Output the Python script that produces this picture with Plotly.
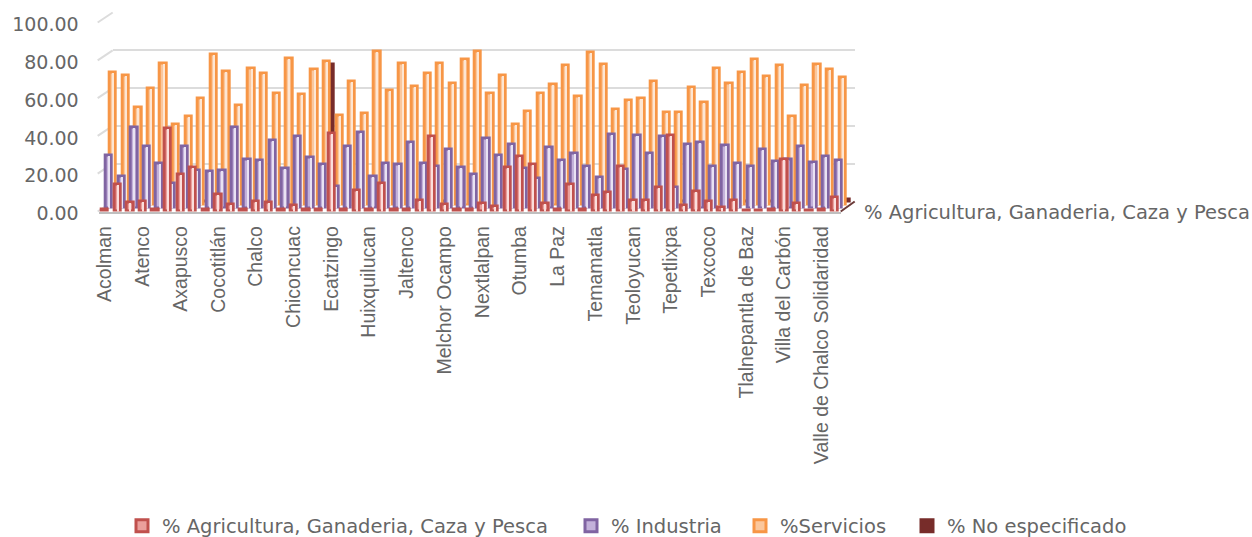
import plotly.graph_objects as go

W, H = 1252, 537

tick_labels = ["Acolman", "Atenco", "Axapusco", "Cocotitlán", "Chalco", "Chiconcuac", "Ecatzingo",
               "Huixquilucan", "Jaltenco", "Melchor Ocampo", "Nextlalpan", "Otumba", "La Paz",
               "Temamatla", "Teoloyucan", "Tepetlixpa", "Texcoco", "Tlalnepantla de Baz",
               "Villa del Carbón", "Valle de Chalco Solidaridad"]
y_ticks = [0, 20, 40, 60, 80, 100]

agricultura = [1, 14.5, 4.5, 5, 1, 43.7, 19.6, 23, 1, 9, 3.7, 1, 5, 4.7, 1, 3, 0.8, 0.8, 41, 1,
               11, 1, 15, 1, 1, 5.6, 39.5, 3.9, 0.8, 0.8, 4, 2.8, 23, 29, 25, 4, 1, 14, 1, 8.6,
               10, 24, 5.6, 5.8, 12.7, 40, 3, 10.6, 5.5, 2.3, 6, 0.7, 0.7, 1, 27.7, 4.4, 0.6, 0.8, 7.2]
industria = [28, 17, 43, 33, 24, 13.4, 33, 20, 19.6, 20, 43, 25.7, 25.6, 36, 21, 38, 27, 23, 11.6, 33,
             40, 17, 24, 23, 35, 24, 22, 31, 21.5, 18, 37, 28, 34, 21, 16, 32, 25.6, 29, 22, 16.4,
             39, 20.5, 38.4, 29, 38, 11.3, 34, 35, 22, 33.5, 23.6, 22.4, 31, 25, 26, 32.6, 24.5, 27.5, 25.4]
servicios = [70.5, 68.8, 52, 62, 75.3, 43, 47, 56.8, 79.7, 71, 53, 72.7, 69.7, 59, 78, 58.7, 72, 76, 47.4, 65.6,
             48.7, 81.5, 60.7, 75, 63, 70, 75, 64.7, 77.4, 81.5, 59, 68.8, 42.7, 49.7, 59.4, 64, 74, 57.7, 81, 74.4,
             50.6, 55.6, 56.4, 65.8, 49, 49.4, 62.6, 54.7, 72.7, 64.7, 70.4, 77, 68, 74, 47, 63.3, 74.8, 71.8, 67.5]
no_especificado = [0.3] * 17 + [73] + [0.3] * 40 + [1.5]

positions = list(range(len(agricultura)))

# series, from the back of the 3D box to the front
series = [
    ("% No especificado", no_especificado, "#772c2a", "#772c2a", "#772c2a", 3),
    ("%Servicios", servicios, "#f79646", "#fbc79c", "#fde6d3", 2),
    ("% Industria", industria, "#8064a2", "#c3b1da", "#e9e2f3", 1),
    ("% Agricultura, Ganaderia, Caza y Pesca", agricultura, "#c0504d", "#eb9f9c", "#fbdedc", 0),
]
legend_x = {"% Agricultura, Ganaderia, Caza y Pesca": 122, "% Industria": 571,
            "%Servicios": 740, "% No especificado": 907}
legend_ids = {"% Agricultura, Ganaderia, Caza y Pesca": "legend", "% Industria": "legend2",
              "%Servicios": "legend3", "% No especificado": "legend4"}

X0, X1 = 98.7, 840.7      # front plot box, px
Y0, Y100 = 211.5, 22.5
TOP = 100.5               # keeps the 100 gridline inside the axis range
DX, DY = 4.0, 3.0         # shift per depth row, px
BACK_DX, BACK_DY = 14.0, 10.0
GRID = "#dcdcdc"
TEXT = "#666666"
YTOP = Y0 + (Y100 - Y0) * TOP / 100


def hdom(shift):
    return [(X0 + shift) / W, (X1 + shift) / W]


def vdom(shift):
    return [1 - (Y0 - shift) / H, 1 - (YTOP - shift) / H]


fig = go.Figure()
layout = {}

# back wall carrying the grid (axes 1)
fig.add_trace(go.Bar(x=[], y=[], xaxis="x", yaxis="y", showlegend=False))
layout["xaxis"] = dict(domain=hdom(BACK_DX), range=[-0.5, 58.5], visible=False, anchor="y", automargin=False)
layout["yaxis"] = dict(domain=vdom(BACK_DY), range=[0, TOP], tickvals=y_ticks, showticklabels=False,
                       showgrid=True, gridcolor=GRID, gridwidth=2, zeroline=False, showline=False,
                       ticks="", anchor="x", automargin=False)

for n, (name, vals, line, fill, shine, depth) in enumerate(series):
    k = n + 2
    xa, ya = f"x{k}", f"y{k}"
    front = depth == 0
    shine_vals = [v if v >= 2 else None for v in vals]
    fig.add_trace(go.Bar(x=positions, y=vals, name=name, xaxis=xa, yaxis=ya, width=0.5,
                         marker=dict(color=fill, line=dict(color=line, width=3)),
                         legend=legend_ids[name]))
    fig.add_trace(go.Bar(x=positions, y=shine_vals, xaxis=xa, yaxis=ya, width=0.16, showlegend=False,
                         marker=dict(color=shine, line=dict(width=0)), hoverinfo="skip"))
    layout[f"xaxis{k}"] = dict(domain=hdom(DX * depth), range=[-0.5, 58.5], anchor=ya, automargin=False,
                               tickmode="array", tickvals=positions[::3], ticktext=tick_labels,
                               tickangle=-90, showticklabels=front, ticks="", showgrid=False,
                               zeroline=False, showline=front, linecolor="#bfbfbf", linewidth=1.5,
                               ticklabelstandoff=5,
                               tickfont=dict(family="Liberation Sans", size=19.5, color=TEXT))
    layout[f"yaxis{k}"] = dict(domain=vdom(DY * depth), range=[0, TOP], anchor=xa, tickvals=y_ticks,
                               showticklabels=False, ticks="", showgrid=False, zeroline=False,
                               showline=False, automargin=False)

# value labels sit on their own axis, a touch lower than the front floor
k = len(series) + 2
fig.add_trace(go.Bar(x=[], y=[], xaxis=f"x{k}", yaxis=f"y{k}", showlegend=False))
layout[f"xaxis{k}"] = dict(domain=hdom(0), range=[-0.5, 58.5], visible=False, anchor=f"y{k}", automargin=False)
layout[f"yaxis{k}"] = dict(domain=vdom(-2), range=[0, TOP], anchor=f"x{k}", tickmode="array",
                           tickvals=y_ticks, tickformat=".2f", ticks="", showgrid=False,
                           zeroline=False, showline=False, automargin=False, ticklabelstandoff=19,
                           tickfont=dict(family="DejaVu Sans", size=19, color=TEXT))

# depth connectors on the left wall and along the floor
shapes = []
for v in y_ticks:
    yp = Y0 + (Y100 - Y0) * v / 100
    shapes.append(dict(type="line", xref="paper", yref="paper", layer="below",
                       x0=(X0 - 1) / W, x1=(X0 + BACK_DX) / W,
                       y0=1 - yp / H, y1=1 - (yp - BACK_DY) / H,
                       line=dict(color=GRID, width=2)))
shapes.append(dict(type="line", xref="paper", yref="paper", x0=X1 / W, x1=(X1 + BACK_DX) / W,
                   y0=1 - Y0 / H, y1=1 - (Y0 - BACK_DY) / H, line=dict(color="#6b3a38", width=2)))

legend_style = dict(orientation="h", yanchor="middle", y=1 - 526 / H, xanchor="left",
                    font=dict(family="DejaVu Sans", size=19.5, color=TEXT),
                    bgcolor="rgba(0,0,0,0)", borderwidth=0, tracegroupgap=0)
for nm, lid in legend_ids.items():
    layout[lid] = dict(legend_style, x=legend_x[nm] / W)

fig.update_layout(
    width=W, height=H, autosize=False,
    margin=dict(l=0, r=0, t=0, b=0, autoexpand=False),
    paper_bgcolor="white", plot_bgcolor="rgba(0,0,0,0)",
    barmode="overlay", bargap=0, showlegend=True, shapes=shapes,
    annotations=[dict(text="% Agricultura, Ganaderia, Caza y Pesca", xref="paper", yref="paper",
                      x=862 / W, y=1 - 212 / H, xanchor="left", yanchor="middle", showarrow=False,
                      font=dict(family="DejaVu Sans", size=19.5, color=TEXT))],
    **layout,
)
fig.write_html("out.html", config=dict(displayModeBar=False),
               post_script="document.body.style.margin='0';")
